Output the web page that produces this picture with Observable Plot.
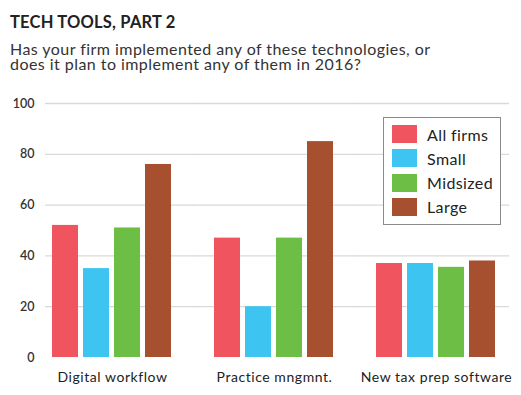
<!DOCTYPE html>
<html><head><meta charset="utf-8">
<script src="https://cdn.jsdelivr.net/npm/d3@7"></script>
<script src="https://cdn.jsdelivr.net/npm/@observablehq/plot@0.6"></script>
<style>
body{margin:0;background:#fff;font-family:Lato,"Open Sans",sans-serif;}
#wrap{position:relative;width:521px;height:395px;overflow:hidden;background:#fff}
#title{position:absolute;left:10px;top:12px;font-size:16.5px;line-height:20px;font-weight:700;color:#222;white-space:nowrap;letter-spacing:0.2px}
.sub{position:absolute;left:10px;font-size:16px;line-height:15px;height:15px;color:#333;white-space:nowrap;letter-spacing:0.45px}
#chart{position:absolute;left:0;top:88px}
#legend{position:absolute;left:383px;top:117px;width:118px;height:108px;border:1.5px solid #8a8a8a;box-sizing:border-box;background:#fff}
.row{position:absolute;left:8px;height:18px;display:flex;align-items:center;font-size:16px;color:#222;white-space:nowrap;letter-spacing:0.4px}
.sw{width:25px;height:18px;margin-right:10px}
g[aria-label="fx-axis tick label"] text{letter-spacing:0.55px}
</style></head>
<body>
<div id="wrap">
  <div id="title">TECH TOOLS, PART 2</div>
  <div class="sub" style="top:40.6px">Has your firm implemented any of these technologies, or</div>
  <div class="sub" style="top:55.6px">does it plan to implement any of them in 2016?</div>
  <div id="chart"></div>
  <div id="legend"></div>
</div>
<script>
const categories = ["Digital workflow", "Practice mngmnt.", "New tax prep software"];
const series = ["All firms", "Small", "Midsized", "Large"];
const allFirms = [52, 47, 37];
const small = [35, 20, 37];
const midsized = [51, 47, 35.5];
const large = [76, 85, 38];
const yTicks = [0, 20, 40, 60, 80, 100];
const colors = ["#F0555F", "#3EC4F0", "#6DBE45", "#A7502F"];

const valuesBySeries = [allFirms, small, midsized, large];
const data = [];
categories.forEach((c, i) => {
  series.forEach((s, j) => data.push({category: c, series: s, value: valuesBySeries[j][i]}));
});

// gridlines: one rule mark per facet, stretched across the gaps between groups
const gridInsets = [[-7, -21.5], [-21.5, -21.5], [-21.5, -13]];
const gridMarks = categories.map((c, k) =>
  Plot.ruleY(yTicks.slice(1), {y: d => d, fx: () => c, stroke: "#d9d9d9", strokeWidth: 1.3,
    insetLeft: gridInsets[k][0], insetRight: gridInsets[k][1]})
);

const plot = Plot.plot({
  width: 521,
  height: 307,
  marginTop: 15,
  marginLeft: 44,
  marginRight: 11,
  marginBottom: 38,
  style: {fontFamily: "Lato, sans-serif", color: "#222", background: "transparent", overflow: "visible"},
  fx: {domain: categories, paddingInner: 0.26, paddingOuter: 0.06, align: 0.35, label: null, axis: null},
  x: {domain: series, paddingInner: 0.15, paddingOuter: 0, axis: null},
  y: {domain: [0, 100], axis: null},
  color: {domain: series, range: colors},
  marks: [
    ...gridMarks,
    Plot.axisY({ticks: yTicks, tickSize: 0, tickPadding: 18, fontSize: 12.5, fontWeight: 600, fill: "#333", label: null}),
    Plot.axisFx({tickSize: 0, tickPadding: 14.5, fontSize: 14, fill: "#222", label: null, anchor: "bottom"}),
    Plot.barY(data, {fx: "category", x: "series", y: "value", fill: "series"})
  ]
});
document.getElementById("chart").appendChild(plot);

const color = plot.scale("color");
const legend = document.getElementById("legend");
series.forEach((s, i) => {
  const row = document.createElement("div");
  row.className = "row";
  row.style.top = (7 + i * 24.3) + "px";
  const sw = document.createElement("div");
  sw.className = "sw";
  sw.style.background = color.apply(s);
  row.appendChild(sw);
  const t = document.createElement("span");
  t.textContent = s;
  row.appendChild(t);
  legend.appendChild(row);
});
</script>
</body></html>
